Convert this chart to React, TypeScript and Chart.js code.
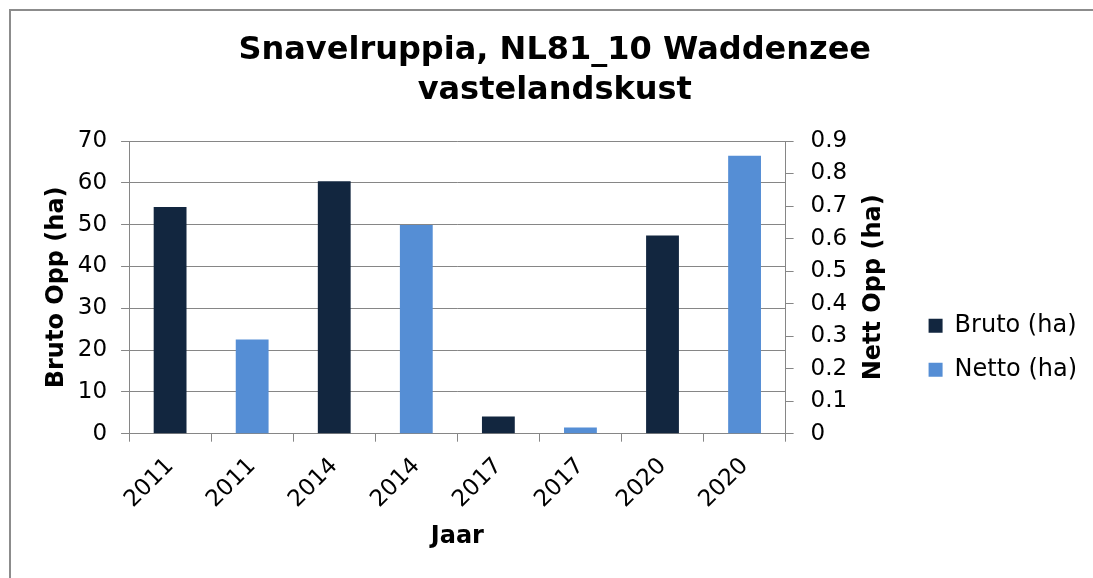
import React, { useEffect, useRef } from 'react';
import { Chart, registerables } from 'chart.js';

Chart.register(...registerables);

const categories = ['2011', '2011', '2014', '2014', '2017', '2017', '2020', '2020'];
const brutoValues = [54.2, null, 60.4, null, 4.1, null, 47.4, null];
const nettoValues = [null, 0.29, null, 0.642, null, 0.019, null, 0.855];
const titleLines = ['Snavelruppia, NL81_10 Waddenzee', 'vastelandskust'];
const seriesNames = ['Bruto (ha)', 'Netto (ha)'];
const leftAxisTitle = 'Bruto Opp (ha)';
const rightAxisTitle = 'Nett Opp (ha)';
const xAxisTitle = 'Jaar';

const FONT = '"DejaVu Sans", Verdana, sans-serif';
const GRID = '#868686';
const TICK_SIZE = 23;
const AXIS_TITLE_SIZE = 24;
const RIGHT_TITLE_PAD_TOP = 20.6;
const RIGHT_TITLE_PAD_BOTTOM = -5;

const rightTitlePlugin = {
  id: 'rightTitle',
  afterDraw(chart: any) {
    const s = chart.scales.y1;
    const ctx = chart.ctx;
    const lineHeight = AXIS_TITLE_SIZE * 1.2;
    ctx.save();
    ctx.font = `bold ${AXIS_TITLE_SIZE}px ${FONT}`;
    ctx.fillStyle = '#000';
    ctx.textAlign = 'center';
    ctx.textBaseline = 'middle';
    const x = s.right - (lineHeight / 2 + RIGHT_TITLE_PAD_TOP);
    const y = (chart.chartArea.top + chart.chartArea.bottom) / 2;
    ctx.translate(x, y);
    ctx.rotate(-Math.PI / 2);
    ctx.fillText(rightAxisTitle, 0, 0);
    ctx.restore();
  },
};

export default function App() {
  const ref = useRef<HTMLCanvasElement | null>(null);

  useEffect(() => {
    if (!ref.current) return;
    const chart = new Chart(ref.current, {
      type: 'bar',
      data: {
        labels: categories,
        datasets: [
          {
            label: seriesNames[0],
            data: brutoValues,
            backgroundColor: '#12263f',
            borderColor: '#12263f',
            borderWidth: 0,
            yAxisID: 'y',
            grouped: false,
            barPercentage: 0.4,
            categoryPercentage: 1,
          },
          {
            label: seriesNames[1],
            data: nettoValues,
            backgroundColor: '#558ed5',
            borderColor: '#558ed5',
            borderWidth: 0,
            yAxisID: 'y1',
            grouped: false,
            barPercentage: 0.4,
            categoryPercentage: 1,
          },
        ],
      } as any,
      options: {
        responsive: false,
        animation: false,
        devicePixelRatio: 1,
        layout: { padding: { left: 24, right: 7.5, top: 18, bottom: 26.6 } },
        plugins: {
          title: {
            display: true,
            text: titleLines,
            color: '#000',
            font: { family: FONT, size: 32, weight: 'bold', lineHeight: 1.25 },
            padding: { top: 13, bottom: 30 },
          },
          legend: {
            position: 'right',
            title: { display: true, text: '', padding: { top: 0, bottom: 114 }, font: { size: 10 } },
            labels: {
              color: '#000',
              font: { family: FONT, size: 24 },
              boxWidth: 14,
              boxHeight: 14,
              padding: 20,
            },
          },
          tooltip: { enabled: false },
        },
        scales: {
          x: {
            grid: { offset: true, drawOnChartArea: false, color: GRID, tickLength: 8 },
            border: { color: GRID, width: 1 },
            ticks: {
              color: '#000',
              font: { family: FONT, size: TICK_SIZE },
              maxRotation: 45,
              minRotation: 45,
              padding: 11,
            },
            title: {
              display: true,
              text: xAxisTitle,
              color: '#000',
              font: { family: FONT, size: AXIS_TITLE_SIZE, weight: 'bold' },
              padding: { top: -2, bottom: 0 },
            },
          },
          y: {
            position: 'left',
            min: 0,
            max: 70,
            grid: { color: GRID, tickLength: 8 },
            border: { color: GRID, width: 1 },
            ticks: {
              stepSize: 10,
              color: '#000',
              font: { family: FONT, size: TICK_SIZE },
              padding: 14,
            },
            title: {
              display: true,
              text: leftAxisTitle,
              color: '#000',
              font: { family: FONT, size: AXIS_TITLE_SIZE, weight: 'bold' },
              padding: { top: 18, bottom: -7 },
            },
          },
          y1: {
            position: 'right',
            min: 0,
            max: 0.9,
            grid: { drawOnChartArea: false, color: GRID, tickLength: 8 },
            border: { color: GRID, width: 1 },
            ticks: {
              stepSize: 0.1,
              color: '#000',
              font: { family: FONT, size: TICK_SIZE },
              padding: 17,
              callback: (v: any) => String(parseFloat(Number(v).toFixed(1))),
            },
            title: {
              display: true,
              text: rightAxisTitle,
              color: 'rgba(0,0,0,0)',
              font: { family: FONT, size: AXIS_TITLE_SIZE, weight: 'bold' },
              padding: { top: RIGHT_TITLE_PAD_TOP, bottom: RIGHT_TITLE_PAD_BOTTOM },
            },
          },
        },
      } as any,
      plugins: [rightTitlePlugin],
    });
    return () => chart.destroy();
  }, []);

  return (
    <div style={{ position: 'fixed', left: 0, top: 0, width: 1093, height: 578, background: '#fff', overflow: 'hidden' }}>
      <div
        style={{
          position: 'absolute',
          left: 9,
          top: 9,
          width: 2000,
          height: 2000,
          borderLeft: '2px solid #8c8c8c',
          borderTop: '2px solid #8c8c8c',
        }}
      />
      <canvas ref={ref} width={1093} height={578} style={{ position: 'absolute', left: 0, top: 0 }} />
    </div>
  );
}
